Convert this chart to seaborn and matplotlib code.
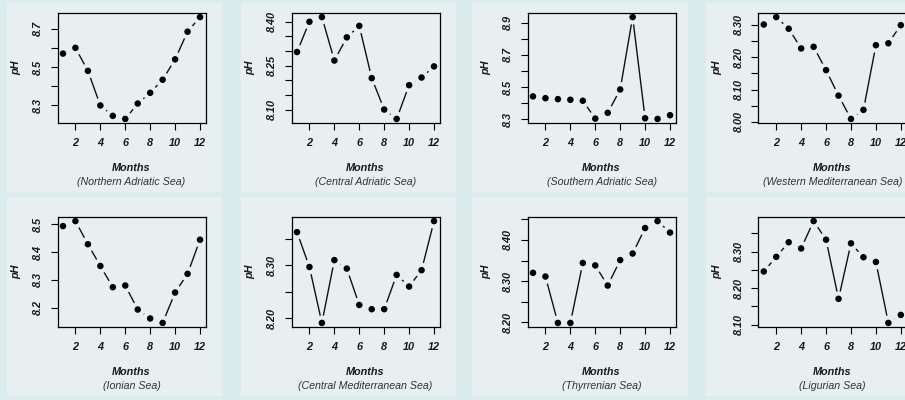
import matplotlib
matplotlib.use("Agg")
import matplotlib.pyplot as plt
from matplotlib.patches import Rectangle
import seaborn as sns

# Monthly pH values
months = [1, 2, 3, 4, 5, 6, 7, 8, 9, 10, 11, 12]

ph_northern_adriatic = [8.57, 8.60, 8.48, 8.30, 8.246, 8.23, 8.31, 8.366, 8.434, 8.54, 8.684, 8.76]
ph_central_adriatic = [8.297, 8.40, 8.416, 8.268, 8.347, 8.386, 8.208, 8.101, 8.069, 8.184, 8.210, 8.248]
ph_southern_adriatic = [8.442, 8.431, 8.425, 8.421, 8.415, 8.304, 8.340, 8.485, 8.935, 8.306, 8.302, 8.325]
ph_western_med = [8.301, 8.324, 8.288, 8.227, 8.232, 8.160, 8.081, 8.009, 8.037, 8.237, 8.243, 8.299]
ph_ionian = [8.493, 8.511, 8.428, 8.350, 8.274, 8.280, 8.194, 8.162, 8.146, 8.255, 8.322, 8.444]
ph_central_med = [8.363, 8.297, 8.191, 8.310, 8.294, 8.225, 8.217, 8.217, 8.282, 8.260, 8.291, 8.384]
ph_thyrrenian = [8.320, 8.311, 8.198, 8.198, 8.344, 8.338, 8.289, 8.351, 8.367, 8.429, 8.446, 8.418]
ph_ligurian = [8.246, 8.286, 8.326, 8.309, 8.384, 8.333, 8.171, 8.323, 8.285, 8.272, 8.105, 8.127]

seas = ["Northern Adriatic Sea", "Central Adriatic Sea", "Southern Adriatic Sea",
        "Western Mediterranean Sea", "Ionian Sea", "Central Mediterranean Sea",
        "Thyrrenian Sea", "Ligurian Sea"]
series = [ph_northern_adriatic, ph_central_adriatic, ph_southern_adriatic, ph_western_med,
          ph_ionian, ph_central_med, ph_thyrrenian, ph_ligurian]

x_ticks = [2, 4, 6, 8, 10, 12]
y_ticks = [
    [8.3, 8.4, 8.5, 8.6, 8.7],
    [8.10, 8.15, 8.20, 8.25, 8.30, 8.35, 8.40],
    [8.3, 8.4, 8.5, 8.6, 8.7, 8.8, 8.9],
    [8.00, 8.05, 8.10, 8.15, 8.20, 8.25, 8.30],
    [8.2, 8.3, 8.4, 8.5],
    [8.20, 8.25, 8.30, 8.35],
    [8.20, 8.25, 8.30, 8.35, 8.40, 8.45],
    [8.10, 8.15, 8.20, 8.25, 8.30, 8.35],
]
y_labels = [
    ["8.3", "", "8.5", "", "8.7"],
    ["8.10", "", "", "8.25", "", "", "8.40"],
    ["8.3", "", "8.5", "", "8.7", "", "8.9"],
    ["8.00", "", "8.10", "", "8.20", "", "8.30"],
    ["8.2", "8.3", "8.4", "8.5"],
    ["8.20", "", "8.30", ""],
    ["8.20", "", "8.30", "", "8.40", ""],
    ["8.10", "", "8.20", "", "8.30", ""],
]

card = "#e7eff0"
gap = "#dcebeb"

sns.set_style("ticks")
plt.rcParams["font.family"] = ["Liberation Sans", "DejaVu Sans"]

W, H = 905, 400
fig = plt.figure(figsize=(W / 100, H / 100), dpi=100, facecolor=gap)

# light cards behind each panel
card_x = [(7, 222), (241, 456), (472, 688), (706, 912)]
card_y = [(3, 192), (197, 396)]
for (y0, y1) in card_y:
    for (x0, x1) in card_x:
        fig.patches.append(Rectangle((x0 / W, 1 - y1 / H), (x1 - x0) / W, (y1 - y0) / H,
                                     transform=fig.transFigure, facecolor=card,
                                     edgecolor="none", zorder=-5))

col_left = [57.5, 291.5, 527.5, 758.3]
row_top = [13, 217]
ax_w, ax_h = 148, 110

for i, (vals, sea) in enumerate(zip(series, seas)):
    r, c = divmod(i, 4)
    ax = fig.add_axes([col_left[c] / W, 1 - (row_top[r] + ax_h) / H, ax_w / W, ax_h / H])
    ax.set_facecolor(card)

    # R type="b": line with gaps round the points
    sns.lineplot(x=months, y=vals, ax=ax, color="#111111", linewidth=1.0, zorder=1)
    sns.scatterplot(x=months, y=vals, ax=ax, s=115, color=card, edgecolor="none",
                    linewidth=0, zorder=1.5)
    sns.scatterplot(x=months, y=vals, ax=ax, s=22, color="black", edgecolor="none",
                    linewidth=0, zorder=3)

    lo, hi = min(vals), max(vals)
    pad = 0.04 * (hi - lo)
    ax.set_ylim(lo - pad, hi + pad)
    ax.set_xlim(1 - 0.44, 12 + 0.44)

    ax.set_xticks(x_ticks)
    ax.set_xticklabels([str(t) for t in x_ticks])
    ax.set_yticks(y_ticks[i])
    ax.set_yticklabels(y_labels[i], rotation=90, va="center")
    ax.tick_params(direction="out", length=5, width=0.8, labelsize=7.8, pad=5.5, color="black")
    for lab in ax.get_xticklabels() + ax.get_yticklabels():
        lab.set_fontweight("bold")
        lab.set_fontstyle("italic")
        lab.set_color("#1a1a1a")

    for sp in ax.spines.values():
        sp.set_visible(True)
        sp.set_linewidth(0.9)
        sp.set_color("black")
        sp.set_zorder(2.5)

    ax.set_xlabel("")
    ax.set_ylabel("")
    ax.text(-0.28, 0.5, "pH", rotation=90, transform=ax.transAxes, ha="center", va="center",
            fontsize=7.8, fontweight="bold", fontstyle="italic", color="#1a1a1a")
    ax.text(0.5, -0.41, "Months", transform=ax.transAxes, ha="center", va="center",
            fontsize=7.8, fontweight="bold", fontstyle="italic", color="#1a1a1a")
    ax.text(0.5, -0.535, "(" + sea + ")", transform=ax.transAxes, ha="center", va="center",
            fontsize=7.7, fontstyle="italic", color="#333333")

plt.savefig("out.png", dpi=100, facecolor=fig.get_facecolor())
